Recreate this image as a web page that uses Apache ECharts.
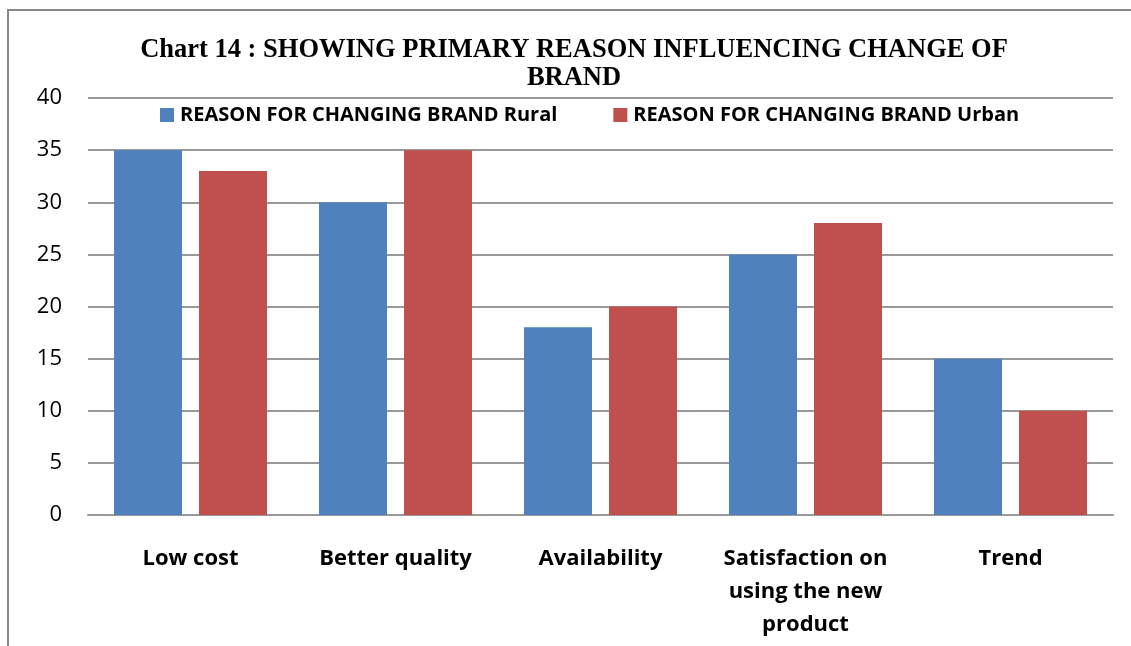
<!DOCTYPE html>
<html>
<head>
<meta charset="utf-8">
<script src="https://cdn.jsdelivr.net/npm/echarts@6/dist/echarts.min.js"></script>
<style>
  html, body { margin: 0; padding: 0; background: #fff; }
  #chart { width: 1131px; height: 646px; }
</style>
</head>
<body>
<div id="chart"></div>
<script>
// Reasons for switching brand, rural vs urban respondents
const categories = ['Low cost', 'Better quality', 'Availability', 'Satisfaction on\nusing the new\nproduct', 'Trend'];
const ruralValues = [35, 30, 18, 25, 15];
const urbanValues = [33, 35, 20, 28, 10];
const seriesNames = ['REASON FOR CHANGING BRAND Rural', 'REASON FOR CHANGING BRAND Urban'];
const yTicks = { min: 0, max: 40, interval: 5 };

const chart = echarts.init(document.getElementById('chart'), null, { renderer: 'canvas' });

const labelFont = 'Open Sans, Liberation Sans, Arial, sans-serif';

chart.setOption({
  animation: false,
  backgroundColor: '#ffffff',
  title: {
    text: 'Chart 14 : SHOWING PRIMARY REASON INFLUENCING CHANGE OF\nBRAND',
    left: 574,
    textAlign: 'center',
    top: 36,
    padding: 0,
    textStyle: {
      fontFamily: 'Liberation Serif, Times New Roman, serif',
      fontWeight: 'bold',
      fontSize: 26.5,
      lineHeight: 28,
      color: '#000'
    }
  },
  legend: {
    left: 160,
    top: 105,
    padding: 0,
    itemWidth: 14,
    itemHeight: 14,
    itemGap: 56,
    icon: 'rect',
    textStyle: {
      fontFamily: labelFont,
      fontWeight: 'bold',
      fontSize: 20,
      color: '#000',
      padding: [0, 0, 0, 1]
    },
    data: seriesNames
  },
  grid: { left: 88, right: 18, top: 98, bottom: 131, containLabel: false },
  xAxis: {
    type: 'category',
    data: categories,
    axisLine: { show: true, lineStyle: { color: '#999', width: 2 } },
    axisTick: { show: false },
    axisLabel: {
      margin: 27,
      interval: 0,
      fontFamily: labelFont,
      fontWeight: 'bold',
      fontSize: 22,
      lineHeight: 33,
      color: '#000'
    }
  },
  yAxis: {
    type: 'value',
    min: yTicks.min,
    max: yTicks.max,
    interval: yTicks.interval,
    axisLine: { show: false },
    axisTick: { show: false },
    splitLine: { lineStyle: { color: '#999', width: 2 } },
    axisLabel: {
      margin: 26,
      fontFamily: labelFont,
      fontSize: 22,
      color: '#000'
    }
  },
  series: [
    {
      name: seriesNames[0],
      type: 'bar',
      data: ruralValues,
      barWidth: 68,
      barGap: '25%',
      itemStyle: { color: '#4F81BD' }
    },
    {
      name: seriesNames[1],
      type: 'bar',
      data: urbanValues,
      barWidth: 68,
      barGap: '25%',
      itemStyle: { color: '#C0504D' }
    }
  ],
  graphic: [
    {
      type: 'polyline',
      z: 100,
      shape: { points: [[8, 660], [8, 10], [1140, 10]] },
      style: { stroke: '#888', lineWidth: 2, fill: null }
    }
  ]
});
</script>
</body>
</html>
